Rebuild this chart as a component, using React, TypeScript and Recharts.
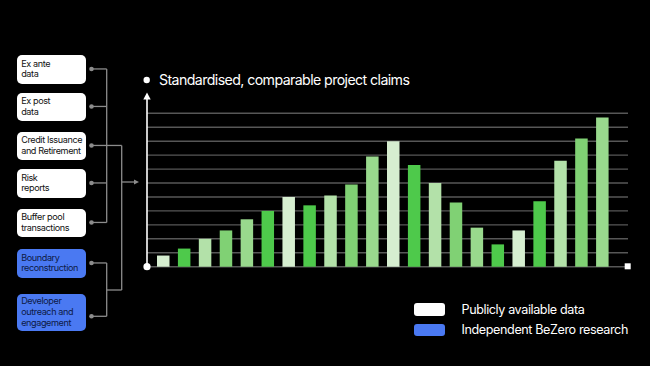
import React from "react";
import { BarChart, Bar, XAxis, YAxis, CartesianGrid, Cell } from "recharts";

const projects = [
  "P1", "P2", "P3", "P4", "P5", "P6", "P7", "P8", "P9", "P10", "P11",
  "P12", "P13", "P14", "P15", "P16", "P17", "P18", "P19", "P20", "P21", "P22",
];
const claims = [8, 13, 20, 26, 34, 40, 50, 44, 51, 59, 79, 90, 73, 60, 46, 28, 16, 26, 47, 76, 92, 107];
const yTicks = [0, 10, 20, 30, 40, 50, 60, 70, 80, 90, 100, 110];

const sources = [
  { label: ["Ex ante", "data"], kind: "public" },
  { label: ["Ex post", "data"], kind: "public" },
  { label: ["Credit Issuance", "and Retirement"], kind: "public" },
  { label: ["Risk", "reports"], kind: "public" },
  { label: ["Buffer pool", "transactions"], kind: "public" },
  { label: ["Boundary", "reconstruction"], kind: "research" },
  { label: ["Developer", "outreach and", "engagement"], kind: "research" },
];

const legendItems = [
  { label: "Publicly available data", kind: "public" },
  { label: "Independent BeZero research", kind: "research" },
];

const PALE = "#d6eed0";
const BRIGHT = "#4ec94b";
const LIGHT = "#b3e1a9";
const MID = "#80d174";
const MIDLIGHT = "#99d98d";
const barColors = [
  PALE, BRIGHT, LIGHT, MID, MIDLIGHT, BRIGHT, PALE, BRIGHT, LIGHT, MID, MIDLIGHT,
  PALE, BRIGHT, LIGHT, MID, MIDLIGHT, BRIGHT, PALE, BRIGHT, LIGHT, MID, MIDLIGHT,
];

const BLUE = "#4a79f2";
const FONT = "Inter, 'Noto Sans', sans-serif";

const data = projects.map((p, i) => ({ project: p, claims: claims[i] }));

// box layout (top, height) for the source list on the left
const boxes = [
  { top: 55, h: 28.5 },
  { top: 92.5, h: 28.5 },
  { top: 131.5, h: 28.5 },
  { top: 169, h: 28.5 },
  { top: 208.5, h: 28.5 },
  { top: 249, h: 28.5 },
  { top: 293.5, h: 37.5 },
];

const LINE = "#8c8c8c";

export default function App() {
  const dotX = 91.5;
  const busA = 106.7;
  const busB = 121.7;
  const dotY = boxes.map((b, i) => (i === 6 ? 316.3 : b.top + b.h / 2 - 0.3));

  return (
    <div
      style={{
        position: "absolute",
        top: 0,
        left: 0,
        width: 650,
        height: 366,
        background: "#000",
        fontFamily: FONT,
        overflow: "hidden",
      }}
    >
      <BarChart
        width={650}
        height={366}
        data={data}
        margin={{ top: 113.3, right: 22, bottom: 99.3, left: 147 }}
        barSize={12.5}
      >
        <CartesianGrid vertical={false} stroke="#575757" strokeWidth={1.4} />
        <XAxis
          dataKey="project"
          axisLine={{ stroke: "#ffffff", strokeWidth: 1.6 }}
          tick={false}
          tickLine={false}
          height={0}
          padding={{ left: 6, right: 15 }}
        />
        <YAxis hide domain={[0, 110]} ticks={yTicks} interval={0} />
        <Bar dataKey="claims" isAnimationActive={false}>
          {data.map((d, i) => (
            <Cell key={d.project} fill={barColors[i]} />
          ))}
        </Bar>
      </BarChart>

      {/* source boxes */}
      {sources.map((s, i) => (
        <div
          key={i}
          style={{
            position: "absolute",
            left: 16.7,
            top: boxes[i].top,
            width: 69,
            height: boxes[i].h,
            borderRadius: 5,
            background: s.kind === "public" ? "#ffffff" : BLUE,
            color: s.kind === "public" ? "#111111" : "#0d1a45",
            fontSize: 9.1,
            lineHeight: "10.7px",
            letterSpacing: -0.4,
            boxSizing: "border-box",
            paddingLeft: 4.5,
            display: "flex",
            flexDirection: "column",
            justifyContent: "center",
            whiteSpace: "nowrap",
          }}
        >
          {s.label.map((l) => (
            <span key={l}>{l}</span>
          ))}
        </div>
      ))}

      {/* title */}
      <div
        style={{
          position: "absolute",
          left: 159,
          top: 71,
          color: "#ffffff",
          fontSize: 14.2,
          lineHeight: "18px",
          letterSpacing: -0.6,
          whiteSpace: "nowrap",
        }}
      >
        Standardised, comparable project claims
      </div>

      {/* legend */}
      {legendItems.map((l, i) => (
        <React.Fragment key={l.label}>
          <div
            style={{
              position: "absolute",
              left: 414,
              top: 303.3 + i * 20.5,
              width: 31,
              height: 12.5,
              borderRadius: 3,
              background: l.kind === "public" ? "#ffffff" : BLUE,
            }}
          />
          <div
            style={{
              position: "absolute",
              left: 461.5,
              top: 300.5 + i * 20.5,
              color: "#ffffff",
              fontSize: 12.6,
              lineHeight: "17px",
              letterSpacing: -0.4,
              whiteSpace: "nowrap",
            }}
          >
            {l.label}
          </div>
        </React.Fragment>
      ))}

      {/* connectors and axis decorations */}
      <svg
        width={650}
        height={366}
        style={{ position: "absolute", top: 0, left: 0, pointerEvents: "none" }}
      >
        {[0, 1, 3, 4].map((i) => (
          <line key={i} x1={dotX} x2={busA} y1={dotY[i]} y2={dotY[i]} stroke={LINE} strokeWidth={1.3} />
        ))}
        <line x1={busA} x2={busA} y1={dotY[0]} y2={dotY[4]} stroke={LINE} strokeWidth={1.3} />
        <line x1={dotX} x2={busB} y1={dotY[2]} y2={dotY[2]} stroke={LINE} strokeWidth={1.3} />
        <line x1={busB} x2={busB} y1={dotY[2]} y2={290} stroke={LINE} strokeWidth={1.3} />
        {[5, 6].map((i) => (
          <line key={i} x1={dotX} x2={busA} y1={dotY[i]} y2={dotY[i]} stroke={LINE} strokeWidth={1.3} />
        ))}
        <line x1={busA} x2={busA} y1={dotY[5]} y2={dotY[6]} stroke={LINE} strokeWidth={1.3} />
        <line x1={busA} x2={busB} y1={290} y2={290} stroke={LINE} strokeWidth={1.3} />
        <line x1={busB} x2={136} y1={182} y2={182} stroke={LINE} strokeWidth={1.3} />
        <polygon points="139,182 134,179.5 134,184.5" fill={LINE} />
        {dotY.map((y, i) => (
          <circle key={i} cx={dotX} cy={y} r={2.3} fill={LINE} />
        ))}

        {/* y axis with arrow */}
        <line x1={147} x2={147} y1={266.7} y2={98} stroke="#ffffff" strokeWidth={1.6} />
        <polygon points="147,92.5 143.3,99.5 150.7,99.5" fill="#ffffff" />
        <circle cx={147} cy={266.7} r={3.6} fill="#ffffff" />
        <rect x={624.7} y={263.3} width={6} height={6} fill="#ffffff" />
        <circle cx={146.7} cy={80} r={3.2} fill="#ffffff" />
      </svg>
    </div>
  );
}
